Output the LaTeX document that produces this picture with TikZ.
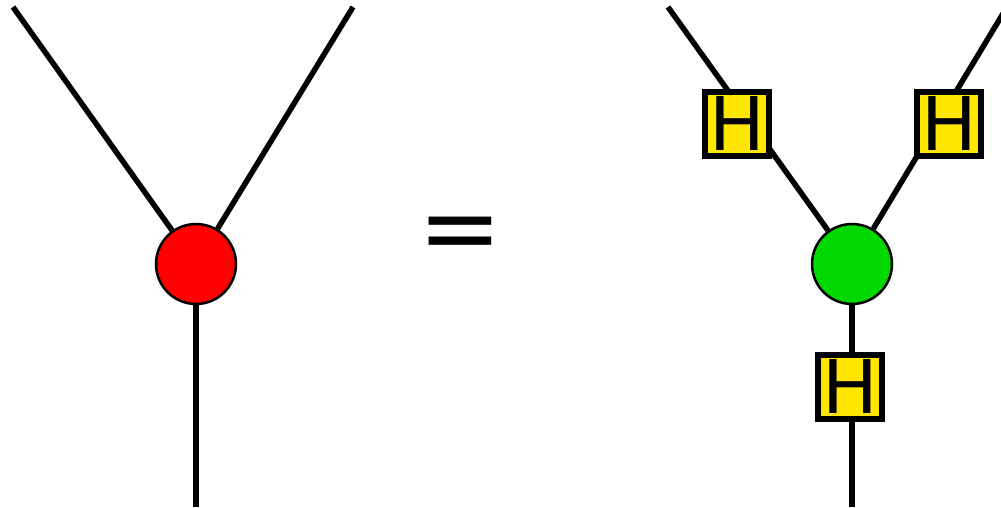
\documentclass[tikz,border=0pt]{standalone}
\usepackage{fontspec}
\setmainfont{DejaVu Sans}
\definecolor{spiderred}{RGB}{255,0,0}
\definecolor{spidergreen}{RGB}{0,216,0}
\definecolor{hyellow}{RGB}{255,230,0}
\tikzset{
  wire/.style={line width=5.5pt},
  spider/.style={circle, draw=black, line width=2.5pt, minimum size=80pt, inner sep=0pt},
  hbox/.style={rectangle, draw=black, fill=hyellow, line width=6.5pt, minimum size=64pt, inner sep=0pt,
    font=\fontsize{74}{74}\selectfont},
  eqsign/.style={font=\fontsize{100}{100}\selectfont, inner sep=0pt}
}
\begin{document}
\begin{tikzpicture}[x=1pt,y=-1pt]
\useasboundingbox (0,0) rectangle (1001,507);
\begin{scope}
\clip (0,0) rectangle (1001,507);
% left side
\node[spider, fill=spiderred] (r) at (196,264) {};
\coordinate (lt1) at (13,7);
\coordinate (lt2) at (353,7);
\coordinate (lb) at (196,507);
\draw[wire] (lt1) -- (r);
\draw[wire] (lt2) -- (r);
\draw[wire] (r) -- (lb);
% equals
\node[eqsign] (eq) at (460,240) {=};
% right side
\node[spider, fill=spidergreen] (g) at (852,264) {};
\coordinate (rt1) at (668,7);
\coordinate (rt2) at (1007,7);
\coordinate (rb) at (852,507);
\draw[wire] (rt1) -- (g);
\draw[wire] (rt2) -- (g);
\draw[wire] (g) -- (rb);
\node[hbox] (h1) at (737,124) {H};
\node[hbox] (h2) at (949,124) {H};
\node[hbox] (h3) at (850,387) {H};
\end{scope}
\end{tikzpicture}
\end{document}
